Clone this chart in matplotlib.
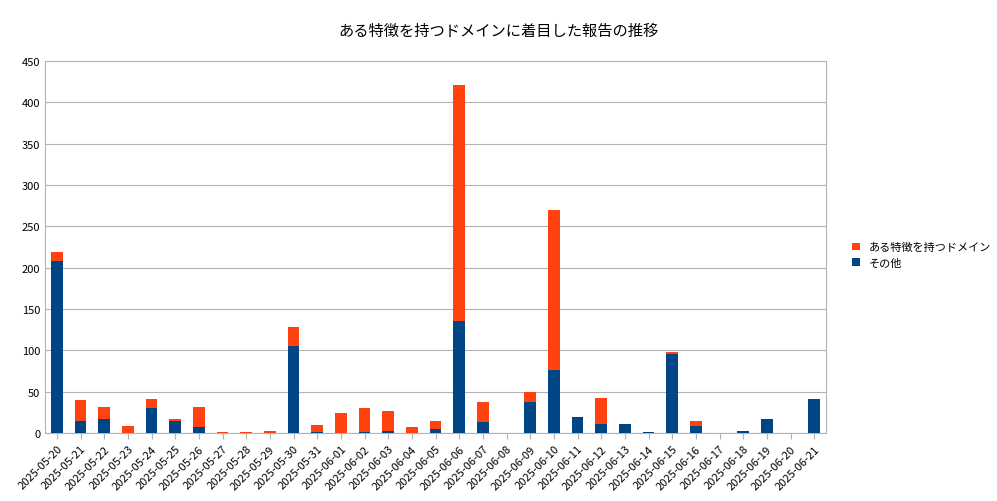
import matplotlib
matplotlib.use("Agg")
import matplotlib.pyplot as plt
import numpy as np

plt.rcParams["font.family"] = ["Noto Sans CJK JP", "DejaVu Sans"]

dates = ["2025-05-20","2025-05-21","2025-05-22","2025-05-23","2025-05-24","2025-05-25","2025-05-26",
         "2025-05-27","2025-05-28","2025-05-29","2025-05-30","2025-05-31","2025-06-01","2025-06-02",
         "2025-06-03","2025-06-04","2025-06-05","2025-06-06","2025-06-07","2025-06-08","2025-06-09",
         "2025-06-10","2025-06-11","2025-06-12","2025-06-13","2025-06-14","2025-06-15","2025-06-16",
         "2025-06-17","2025-06-18","2025-06-19","2025-06-20","2025-06-21"]
other = [208,14,17,0,30,14,7,0,0,0,105,1,0,1,3,0,5,136,13,0,37,76,19,11,11,1,95,9,0,3,17,0,41]
domain = [11,26,14,9,11,3,25,1,1,3,23,9,24,29,24,7,9,285,25,0,13,194,0,31,0,0,3,5,0,0,0,0,0]

fig = plt.figure(figsize=(9.97,5.02), dpi=100)
ax = fig.add_axes([45/997, 1-434/502, 781/997, (434-62)/502])
x = np.arange(len(dates))
ax.bar(x, other, 0.5, color="#004586", label="その他", zorder=3)
ax.bar(x, domain, 0.5, bottom=other, color="#ff420e", label="ある特徴を持つドメイン", zorder=3)
ax.set_xlim(-0.5, len(dates)-0.5)
ax.set_ylim(0, 450)
ax.set_yticks(range(0, 451, 50))
ax.yaxis.grid(True, color="#b3b3b3", lw=0.8, zorder=0)
ax.set_xticks(x)
ax.set_xticklabels(dates, rotation=45, ha="right", rotation_mode="anchor", fontsize=8)
ax.tick_params(axis="y", labelsize=8, length=0)
ax.tick_params(axis="x", length=4, color="#b3b3b3")
for s in ax.spines.values():
    s.set_color("#b3b3b3")
fig.suptitle("ある特徴を持つドメインに着目した報告の推移", y=0.955, fontsize=11)
h, l = ax.get_legend_handles_labels()
fig.legend(h[::-1], l[::-1], loc="center left", bbox_to_anchor=(842/997, 0.49), frameon=False, fontsize=8,
           handlelength=0.7, handleheight=0.7)
fig.savefig("out.png", dpi=100)
